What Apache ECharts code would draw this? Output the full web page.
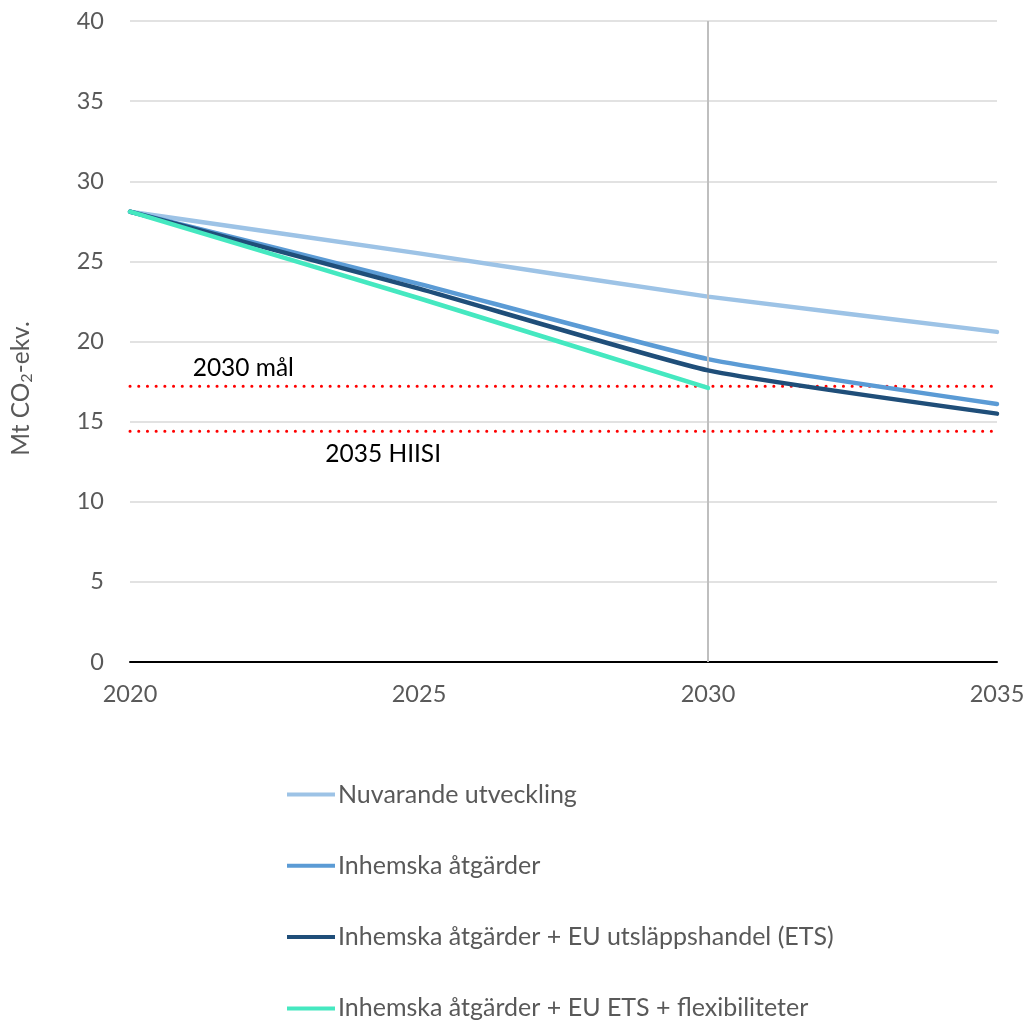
<!DOCTYPE html>
<html>
<head>
<meta charset="utf-8">
<script src="https://cdn.jsdelivr.net/npm/echarts@6/dist/echarts.min.js"></script>
<style>
  html, body { margin: 0; padding: 0; background: #fff; }
  #chart { width: 1028px; height: 1021px; }
</style>
</head>
<body>
<div id="chart"></div>
<script>
// Utsläpp, Mt CO2-ekv., per scenario
const years = [2020, 2025, 2030, 2035];
const nuvarande = [28.1, 25.5, 22.8, 20.6];
const inhemska = [28.1, 23.6, 18.9, 16.1];
const inhemskaEts = [28.1, 23.3, 18.2, 15.5];
const inhemskaFlex = [28.1, 22.7, 17.1];

const seriesNames = [
  'Nuvarande utveckling',
  'Inhemska åtgärder',
  'Inhemska åtgärder + EU utsläppshandel (ETS)',
  'Inhemska åtgärder + EU ETS + flexibiliteter'
];
const seriesColors = ['#9DC3E6', '#5B9BD5', '#1F4E79', '#45E8C0'];
const seriesValues = [nuvarande, inhemska, inhemskaEts, inhemskaFlex];

// Mål
const targetYears = [2020, 2035];
const mal2030 = 17.2;
const hiisi2035 = 14.4;
const mal2030Label = '2030 mål';
const hiisi2035Label = '2035 HIISI';
const refYear = 2030;

const xTicks = [2020, 2025, 2030, 2035];

const FONT = 'Lato, "Open Sans", sans-serif';
const GREY = '#595959';

function pairs(xs, ys) {
  return ys.map((v, i) => [xs[i], v]);
}

const lineSeries = seriesNames.map((name, i) => ({
  name: name,
  type: 'line',
  data: pairs(years, seriesValues[i]),
  smooth: 0.15,
  showSymbol: false,
  symbol: 'none',
  lineStyle: { color: seriesColors[i], width: 4.5, cap: 'round' },
  itemStyle: { color: seriesColors[i] },
  z: 3 + i
}));

function targetSeries(name, value, text, labelYear, pos) {
  return {
    name: name,
    type: 'line',
    data: targetYears.map(y => [y, value]),
    symbol: 'none',
    silent: true,
    lineStyle: { color: '#FF0000', width: 3, type: [0.1, 8.6], cap: 'round' },
    z: 2,
    markPoint: {
      symbol: 'circle',
      symbolSize: 0,
      data: [{ coord: [labelYear, value] }],
      label: {
        show: true,
        formatter: text,
        position: pos,
        distance: pos === 'top' ? 6 : 10,
        color: '#000',
        fontSize: 24.5,
        fontFamily: FONT
      }
    }
  };
}

const chart = echarts.init(document.getElementById('chart'));
chart.setOption({
  animation: false,
  backgroundColor: '#fff',
  grid: { left: 130, right: 31, top: 21, bottom: 359, containLabel: false, outerBoundsMode: 'none' },
  xAxis: {
    type: 'value',
    min: xTicks[0],
    max: xTicks[xTicks.length - 1],
    interval: 5,
    axisLine: { show: true, lineStyle: { color: '#000', width: 2 } },
    axisTick: { show: false },
    splitLine: { show: false },
    axisLabel: {
      color: GREY, fontSize: 23.5, fontFamily: FONT, margin: 20,
      formatter: v => String(v)
    }
  },
  yAxis: {
    type: 'value',
    min: 0,
    max: 40,
    interval: 5,
    name: '{a|Mt CO}{s|2}{a|-ekv.}',
    nameLocation: 'middle',
    nameGap: 96,
    nameRotate: 90,
    nameTextStyle: {
      padding: [0, 94, 0, 0],
      rich: {
        a: { color: GREY, fontSize: 24.5, fontFamily: FONT },
        s: { color: GREY, fontSize: 16, fontFamily: FONT, padding: [0, 0, -10, 0] }
      }
    },
    axisLine: { show: false },
    axisTick: { show: false },
    splitLine: { lineStyle: { color: '#D9D9D9', width: 1.5 } },
    axisLabel: { color: GREY, fontSize: 23.5, fontFamily: FONT, margin: 26 }
  },
  legend: {
    orient: 'vertical',
    left: 287,
    top: 782,
    padding: 0,
    itemWidth: 48,
    itemHeight: 24,
    itemGap: 46.3,
    icon: 'path://M0,10 L48,10 L48,14 L0,14 Z',
    data: seriesNames,
    textStyle: { color: GREY, fontSize: 25, fontFamily: FONT, padding: [0, 0, 0, -2] }
  },
  series: [
    {
      name: 'ref',
      type: 'line',
      data: [],
      silent: true,
      z: 1,
      markLine: {
        symbol: 'none',
        silent: true,
        label: { show: false },
        lineStyle: { color: '#BFBFBF', width: 2, type: 'solid' },
        data: [{ xAxis: refYear }]
      }
    },
    targetSeries('mal2030', mal2030, mal2030Label, 2021.96, 'top'),
    targetSeries('hiisi2035', hiisi2035, hiisi2035Label, 2024.38, 'bottom'),
    ...lineSeries
  ]
});
</script>
</body>
</html>
